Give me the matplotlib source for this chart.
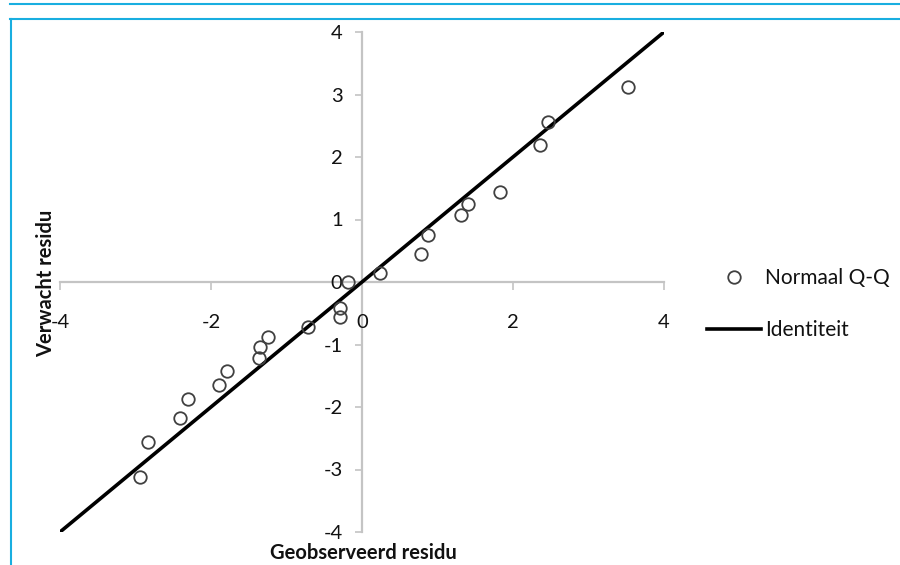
import numpy as np
import matplotlib
matplotlib.use('Agg')
import matplotlib.pyplot as plt
from matplotlib.lines import Line2D

plt.rcParams['font.family'] = ['Lato', 'DejaVu Sans']
plt.rcParams['axes.unicode_minus'] = False

obs = [3.52, 2.46, 2.36, 1.83, 1.40, 1.31, 0.87, 0.78, 0.24, -0.19, -0.29,
       -0.29, -0.72, -1.25, -1.35, -1.36, -1.79, -1.89, -2.30, -2.41, -2.83, -2.94]
exp = [3.12, 2.56, 2.19, 1.44, 1.25, 1.07, 0.75, 0.45, 0.14, 0.00, -0.42,
       -0.56, -0.72, -0.88, -1.04, -1.22, -1.42, -1.65, -1.87, -2.18, -2.56, -3.12]
ident = [-4, 4]
ticks = [-4, -2, 0, 2, 4]
yticks = [-4, -3, -2, -1, 0, 1, 2, 3, 4]

fig = plt.figure(figsize=(9, 5.65), dpi=100, facecolor='w')
ax = fig.add_axes([60/900, 33/565, 604/900, 500/565])

ax.plot(obs, exp, 'o', ms=9, mfc='none', mec='#404040', mew=1.3, label='Normaal Q-Q', zorder=3)
ax.plot(ident, ident, '-', color='k', lw=2.6, label='Identiteit', zorder=2)

ax.set_xlim(-4, 4)
ax.set_ylim(-4, 4)
ax.set_xticks(ticks)
ax.set_yticks(yticks)

for s in ['top', 'right']:
    ax.spines[s].set_visible(False)
for s in ['left', 'bottom']:
    ax.spines[s].set_position(('data', 0))
    ax.spines[s].set_color('#c4c4c4')
    ax.spines[s].set_linewidth(1.6)
    ax.spines[s].set_zorder(1)

ax.tick_params(axis='x', direction='out', length=6, width=1.2, color='#c4c4c4',
               pad=17, labelsize=14.5, labelcolor='#111111')
ax.tick_params(axis='y', direction='out', length=5, width=1.2, color='#c4c4c4',
               pad=9, labelsize=14.5, labelcolor='#111111')

fig.text(46/900, 1 - 283/565, 'Verwacht residu', rotation=90, ha='center', va='center',
         fontsize=14.5, fontweight='bold', color='#111111')
fig.text(363/900, 1 - 553/565, 'Geobserveerd residu', ha='center', va='center',
         fontsize=14.5, fontweight='bold', color='#111111')

ax.legend(loc='center left', bbox_to_anchor=(707/900, 1 - 304/565), bbox_transform=fig.transFigure,
          frameon=False, fontsize=15, handlelength=2.6, handletextpad=0.2,
          labelspacing=1.55, borderpad=0, borderaxespad=0, labelcolor='#111111')

# cyan frame lines of the original page
cyan = '#19aee0'
fig.add_artist(Line2D([10/900, 1], [1 - 4/565, 1 - 4/565], color=cyan, lw=1.5))
fig.add_artist(Line2D([10/900, 1], [1 - 19/565, 1 - 19/565], color=cyan, lw=1.5))
fig.add_artist(Line2D([11/900, 11/900], [0, 1 - 19/565], color=cyan, lw=1.5))

fig.savefig('out.png', dpi=100)
